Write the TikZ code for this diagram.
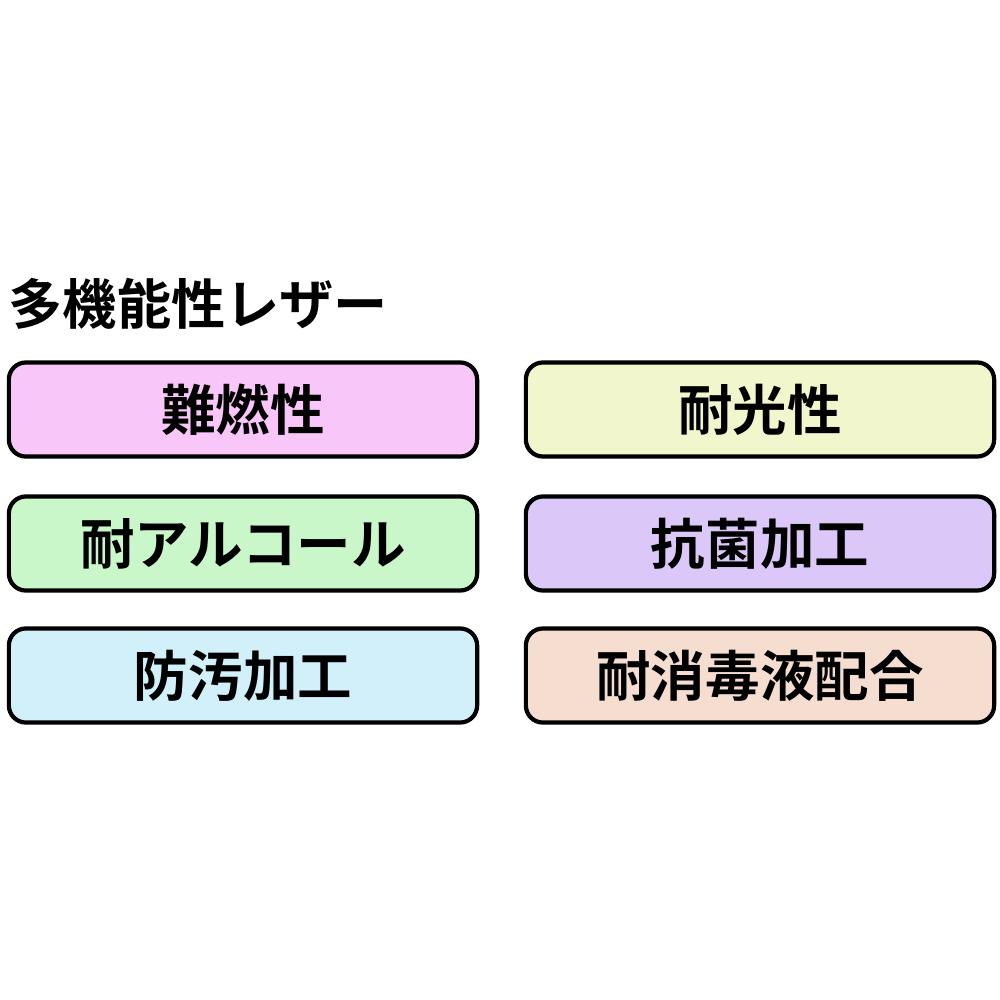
\documentclass[tikz,border=0pt]{standalone}
\usepackage{fontspec}
\newfontfamily\cjk{Noto Sans CJK JP Bold}
\begin{document}
\begin{tikzpicture}[x=0.01cm,y=-0.01cm,
 box/.style={draw=black,line width=1.2pt,rounded corners=0.17cm,minimum width=4.68cm,minimum height=0.94cm,font=\cjk\fontsize{15.5}{16}\selectfont,inner sep=0pt}]
\useasboundingbox[fill=white] (0,0) rectangle (1000,1000);
\node[anchor=west,font=\cjk\fontsize{15.4}{16}\selectfont,inner sep=0pt] (t) at (8,304) {多機能性レザー};
\node[box,fill={rgb,255:red,248;green,198;blue,248}] (a) at (243,409.5) {難燃性};
\node[box,fill={rgb,255:red,242;green,246;blue,204}] (b) at (760,409.5) {耐光性};
\node[box,fill={rgb,255:red,201;green,247;blue,201}] (c) at (243,543.5) {耐アルコール};
\node[box,fill={rgb,255:red,220;green,200;blue,248}] (d) at (760,543.5) {抗菌加工};
\node[box,fill={rgb,255:red,210;green,240;blue,250}] (e) at (243,675.5) {防汚加工};
\node[box,fill={rgb,255:red,245;green,221;blue,208}] (f) at (760,675.5) {耐消毒液配合};
\end{tikzpicture}
\end{document}
